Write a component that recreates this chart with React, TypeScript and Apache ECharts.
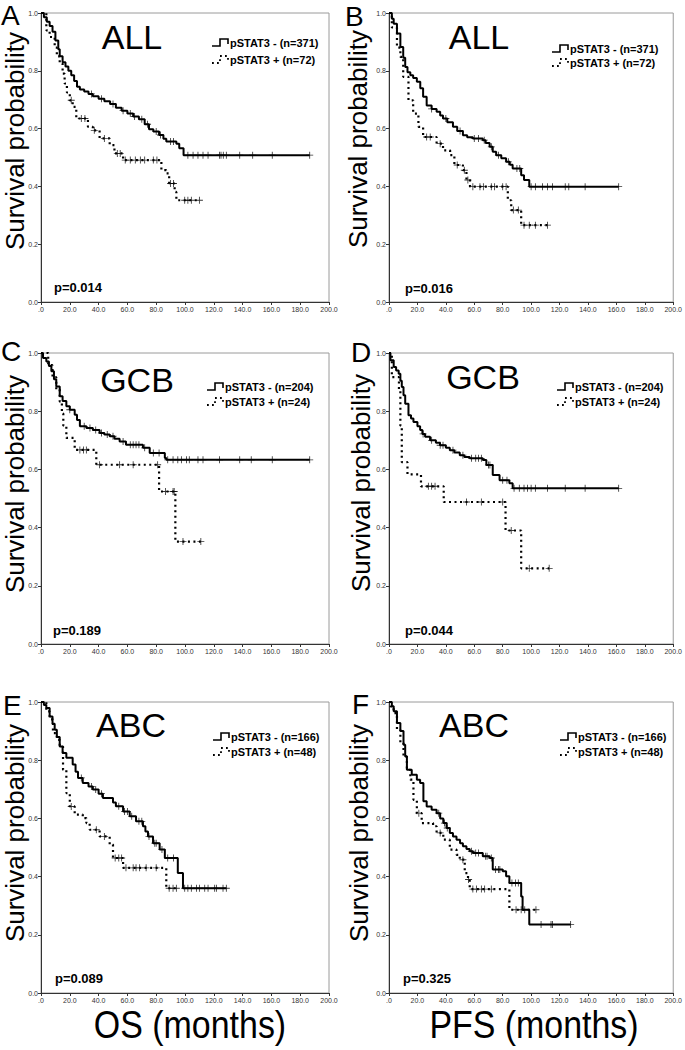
import React, { useEffect, useRef } from 'react';
import * as echarts from 'echarts';

// ---------- Data (time in months, survival probability) ----------
const xTicks = [0, 20, 40, 60, 80, 100, 120, 140, 160, 180, 200];
const yTicks = [0, 0.2, 0.4, 0.6, 0.8, 1.0];

// Panel A: OS, ALL
const A_neg: [number, number][] = [[0,1],[2,0.985],[4,0.97],[6,0.955],[8,0.935],[10,0.905],[12,0.875],[13,0.85],[15,0.83],[17,0.815],[19,0.8],[21,0.785],[23,0.765],[25,0.745],[27,0.735],[30,0.728],[33,0.72],[36,0.712],[40,0.703],[44,0.695],[48,0.685],[52,0.672],[56,0.662],[60,0.652],[64,0.642],[68,0.632],[72,0.615],[75,0.598],[78,0.59],[82,0.578],[85,0.565],[87,0.555],[94,0.548],[96,0.532],[99,0.508],[186.6,0.508]];
const A_negCens = [35, 42, 50, 57, 62, 65, 70, 74, 80, 83, 90, 92, 102, 105.6, 109, 112.5, 116, 124, 125, 126.6, 128.7, 138, 147, 160.6, 186.6];
const A_pos: [number, number][] = [[0,1],[3.7,0.94],[6,0.917],[9.5,0.88],[11,0.85],[13,0.825],[15,0.79],[16.4,0.756],[18,0.725],[20,0.698],[22,0.675],[24.5,0.635],[32.6,0.606],[36,0.594],[40.7,0.566],[47.7,0.543],[51,0.514],[57,0.491],[83.6,0.456],[87,0.445],[89,0.41],[92.8,0.381],[94,0.352],[110,0.352]];
const A_posCens = [21, 28, 30.5, 37, 44, 53, 55, 58.5, 62, 65.5, 69, 72, 78, 80.5, 90, 92, 99.8, 102, 104.4, 110];

// Panel B: PFS, ALL
const B_neg: [number, number][] = [[0,1],[2,0.98],[3.3,0.963],[5.6,0.929],[8,0.882],[10,0.845],[11.4,0.813],[13,0.795],[15,0.785],[17,0.775],[19.6,0.762],[22,0.74],[24,0.71],[26.5,0.68],[30,0.668],[33.5,0.658],[36,0.645],[38,0.635],[41,0.622],[45,0.606],[48,0.592],[52,0.577],[55,0.57],[59,0.566],[66,0.56],[68,0.55],[70.8,0.537],[73,0.52],[75.4,0.508],[79,0.497],[82.4,0.485],[85,0.475],[87,0.462],[93,0.439],[95,0.422],[98.7,0.399],[161.6,0.399]];
const B_negCens = [30, 40, 50, 60, 63, 67, 72, 77, 84, 90, 92, 100, 103, 108, 111.5, 115, 124, 126.5, 138, 161.6];
const B_pos: [number, number][] = [[0,1],[2,0.95],[5.6,0.88],[8,0.848],[10,0.779],[13.7,0.698],[17,0.652],[20.7,0.606],[24,0.571],[33.5,0.548],[38,0.525],[43,0.508],[46,0.474],[52,0.456],[54.5,0.422],[57,0.399],[83.6,0.352],[86,0.318],[93,0.266],[111.5,0.266]];
const B_posCens = [26.5, 29, 36, 48, 53, 55.5, 59, 64, 66.4, 72, 74.3, 80, 82.4, 87.5, 91, 95, 98.7, 103, 111.5];

// Panel C: OS, GCB
const C_neg: [number, number][] = [[0,1],[1.4,0.983],[3.7,0.971],[5.5,0.955],[7.2,0.937],[9,0.91],[10.6,0.885],[13,0.851],[15,0.835],[17.6,0.817],[20,0.805],[23.4,0.788],[25,0.77],[27,0.748],[31.5,0.742],[36,0.735],[40.7,0.725],[44,0.72],[47.7,0.714],[51,0.705],[54.6,0.696],[59,0.685],[70.8,0.674],[75.5,0.656],[86,0.639],[87,0.633],[186.6,0.633]];
const C_negCens = [20, 30, 34, 38, 42, 46, 50, 57, 62, 64, 66, 68, 72, 78, 82, 88, 91.7, 95, 97.5, 101, 103, 109, 112.5, 124, 138, 146, 160.6, 186.6];
const C_pos: [number, number][] = [[0,1],[5,0.958],[8,0.917],[10.6,0.875],[13,0.833],[14.5,0.792],[15.5,0.75],[17.6,0.708],[23.4,0.667],[38.4,0.616],[82,0.524],[93.3,0.352],[111,0.352]];
const C_posCens = [27, 29.5, 31.5, 40.7, 54.6, 64, 81, 86.5, 91.7, 92.5, 98.6, 111];

// Panel D: PFS, GCB
const D_neg: [number, number][] = [[0,1],[1,0.975],[3.3,0.952],[5,0.94],[6.8,0.929],[8,0.905],[9,0.883],[10.2,0.855],[11.4,0.826],[13.7,0.786],[15.5,0.775],[17.2,0.763],[20,0.748],[21.9,0.735],[23.5,0.722],[25.4,0.712],[28.9,0.7],[33,0.692],[35.9,0.683],[40,0.674],[42.8,0.666],[46,0.658],[49.8,0.649],[53,0.643],[56.8,0.638],[66,0.632],[68.5,0.615],[73,0.581],[77.8,0.563],[84.7,0.552],[87,0.535],[161.6,0.535]];
const D_negCens = [24, 30, 36, 38, 45, 52, 58, 61, 63, 65, 70, 71, 80, 83, 88, 91.7, 95, 97.5, 100, 103, 111.5, 124, 138, 161.6];
const D_pos: [number, number][] = [[0,1],[2,0.917],[7,0.875],[8,0.75],[9,0.625],[13,0.583],[22.5,0.542],[38.5,0.488],[82,0.39],[93,0.26],[112.7,0.26]];
const D_posCens = [27.7, 30, 32.4, 54.5, 65, 80, 86, 98.7, 112.7];

// Panel E: OS, ABC
const E_neg: [number, number][] = [[0,1],[2,0.99],[3.7,0.979],[6,0.95],[8,0.925],[9.5,0.905],[11,0.88],[13,0.847],[15,0.825],[17.6,0.808],[22,0.785],[24,0.76],[25.7,0.739],[29,0.722],[33,0.71],[36,0.699],[40,0.685],[43,0.67],[50,0.655],[52,0.642],[57,0.624],[61.6,0.607],[66,0.59],[70.8,0.573],[72.5,0.555],[74.3,0.538],[77.8,0.515],[82.4,0.493],[86,0.464],[95,0.412],[98.6,0.36],[128.7,0.36]];
const E_negCens = [28, 35, 38, 42, 54, 58, 60, 63, 68, 70, 75, 79, 80, 84, 88, 92, 99.8, 102, 104.4, 108, 110, 113.7, 116, 120.6, 121.8, 126.4, 128.7];
const E_pos: [number, number][] = [[0,1],[3.7,0.968],[6,0.94],[8.3,0.893],[11,0.87],[13,0.847],[15.3,0.767],[17.6,0.687],[20,0.641],[23.4,0.613],[29,0.601],[31.5,0.584],[33.8,0.561],[40.7,0.538],[47.7,0.51],[50,0.464],[57,0.43],[87,0.36],[94,0.36]];
const E_posCens = [21, 38.4, 44, 51.5, 54, 56, 59, 64, 66, 68.5, 73, 80, 89, 91.7, 94];

// Panel F: PFS, ABC
const F_neg: [number, number][] = [[0,1],[2,0.985],[3.3,0.968],[5.6,0.928],[8,0.9],[10.2,0.853],[11.4,0.813],[12.6,0.767],[16,0.75],[19.6,0.733],[21.9,0.722],[24.2,0.659],[26.5,0.641],[30,0.63],[33.5,0.618],[36,0.6],[38.2,0.584],[40.5,0.567],[42.8,0.55],[45,0.538],[47.5,0.527],[50,0.515],[52,0.504],[54.5,0.495],[56.8,0.487],[59,0.481],[66,0.47],[70.8,0.464],[73,0.424],[80,0.418],[82.4,0.401],[84.7,0.378],[93,0.332],[94,0.286],[98.7,0.235],[127.8,0.235]];
const F_negCens = [35, 39, 41, 58, 61, 63, 68, 69, 72, 75, 77, 78, 86.5, 89, 91, 95.5, 107, 114, 115, 127.8];
const F_pos: [number, number][] = [[0,1],[1,0.985],[3.3,0.962],[5.6,0.905],[8,0.859],[10.2,0.813],[12.6,0.767],[15,0.733],[17.2,0.664],[19.6,0.618],[23,0.584],[31,0.573],[33.5,0.55],[38.2,0.527],[42.8,0.493],[47.5,0.475],[49.8,0.458],[53.3,0.412],[55.6,0.39],[56.8,0.357],[84.7,0.286],[103.4,0.286]];
const F_posCens = [21, 36, 52, 56, 59, 61.5, 65, 67.3, 72, 89.4, 93, 103.4];

const groupNames = ['ALL', 'ALL', 'GCB', 'GCB', 'ABC', 'ABC'];
const panelLetters = ['A', 'B', 'C', 'D', 'E', 'F'];
const nNeg = [371, 371, 204, 204, 166, 166];
const nPos = [72, 72, 24, 24, 48, 48];
const pValues = ['0.014', '0.016', '0.189', '0.044', '0.089', '0.325'];
const xTitles = ['OS (months)', 'PFS (months)'];

// ---------- Layout ----------
const FONT = 'Arial, "Liberation Sans", Helvetica, sans-serif';
const layout = [
  { grid: { left: 41, top: 13, width: 288, height: 289 }, title: [132, 37], letter: [1, 15], yTitle: [15, 141], legend: [212, 43, 60], p: [54, 287] },
  { grid: { left: 389, top: 13, width: 286, height: 289 }, title: [479, 37], letter: [345, 16], yTitle: [358, 139], legend: [552, 49, 63], p: [405, 288] },
  { grid: { left: 41, top: 353, width: 288, height: 291 }, title: [137, 380], letter: [1, 351], yTitle: [15, 484], legend: [207, 387, 402], p: [53, 630] },
  { grid: { left: 389, top: 353, width: 286, height: 291 }, title: [483, 377], letter: [351, 352], yTitle: [361, 483], legend: [557, 387, 402], p: [405, 630] },
  { grid: { left: 41, top: 702, width: 288, height: 291 }, title: [131, 725], letter: [3, 705], yTitle: [15, 833], legend: [213, 737, 752], p: [55, 978] },
  { grid: { left: 389, top: 702, width: 286, height: 291 }, title: [474, 725], letter: [352, 704], yTitle: [359, 833], legend: [560, 737, 752], p: [403, 978] },
];
const xTitlePos = [[190, 1025], [534, 1025]];

const curves = [
  [A_neg, A_pos, A_negCens, A_posCens],
  [B_neg, B_pos, B_negCens, B_posCens],
  [C_neg, C_pos, C_negCens, C_posCens],
  [D_neg, D_pos, D_negCens, D_posCens],
  [E_neg, E_pos, E_negCens, E_posCens],
  [F_neg, F_pos, F_negCens, F_posCens],
] as const;

function stepAt(pts: [number, number][], t: number): number {
  let v = pts[0][1];
  for (const p of pts) {
    if (p[0] <= t) v = p[1];
    else break;
  }
  return v;
}

const PLUS = 'path://M4.4,0H5.6V4.4H10V5.6H5.6V10H4.4V5.6H0V4.4H4.4Z';

function buildOption() {
  const grids: any[] = [];
  const xAxes: any[] = [];
  const yAxes: any[] = [];
  const series: any[] = [];
  const graphics: any[] = [];

  layout.forEach((L, i) => {
    grids.push({ ...L.grid, show: true, borderColor: '#9a9a9a', borderWidth: 1, backgroundColor: '#fff' });
    xAxes.push({
      type: 'value', gridIndex: i, min: 0, max: 200, interval: 20,
      axisLine: { show: true, onZero: false, lineStyle: { color: '#333', width: 1 } },
      axisTick: { show: true, length: 3, lineStyle: { color: '#333' } },
      splitLine: { show: false },
      axisLabel: {
        fontSize: 7, color: '#333', margin: 4, fontFamily: FONT,
        formatter: (v: number) => (v === 0 ? '.0' : v.toFixed(1)),
        customValues: xTicks,
      },
    });
    yAxes.push({
      type: 'value', gridIndex: i, min: 0, max: 1, interval: 0.2,
      axisLine: { show: true, onZero: false, lineStyle: { color: '#333', width: 1 } },
      axisTick: { show: true, length: 3, lineStyle: { color: '#333' } },
      splitLine: { show: false },
      axisLabel: {
        fontSize: 7, color: '#333', margin: 3, fontFamily: FONT,
        formatter: (v: number) => v.toFixed(1),
        customValues: yTicks,
      },
    });

    const [neg, pos, negC, posC] = curves[i] as any;
    series.push({
      type: 'line', xAxisIndex: i, yAxisIndex: i, step: 'end', showSymbol: false, symbol: 'none',
      data: neg, lineStyle: { color: '#000', width: 2 }, z: 3,
    });
    series.push({
      type: 'line', xAxisIndex: i, yAxisIndex: i, step: 'end', showSymbol: false, symbol: 'none',
      data: pos, lineStyle: { color: '#000', width: 2.2, type: [2, 3.5] }, z: 3,
    });
    series.push({
      type: 'scatter', xAxisIndex: i, yAxisIndex: i, symbol: PLUS, symbolSize: 7,
      data: (negC as number[]).map((t) => [t, stepAt(neg, t)]),
      itemStyle: { color: '#000' }, z: 4,
    });
    series.push({
      type: 'scatter', xAxisIndex: i, yAxisIndex: i, symbol: PLUS, symbolSize: 7,
      data: (posC as number[]).map((t) => [t, stepAt(pos, t)]),
      itemStyle: { color: '#000' }, z: 4,
    });

    // Texts
    graphics.push({
      type: 'text', x: L.letter[0], y: L.letter[1],
      style: { text: panelLetters[i], font: `28px ${FONT}`, fill: '#000', textAlign: 'left', textVerticalAlign: 'middle' },
    });
    graphics.push({
      type: 'text', x: L.title[0], y: L.title[1],
      style: { text: groupNames[i], font: `34px ${FONT}`, fill: '#000', textAlign: 'center', textVerticalAlign: 'middle' },
    });
    graphics.push({
      type: 'text', x: L.yTitle[0], y: L.yTitle[1], rotation: Math.PI / 2,
      style: { text: 'Survival probability', font: `26px ${FONT}`, fill: '#000', textAlign: 'center', textVerticalAlign: 'middle' },
    });
    graphics.push({
      type: 'text', x: L.p[0], y: L.p[1],
      style: { text: `p=${pValues[i]}`, font: `bold 13px ${FONT}`, fill: '#000', textAlign: 'left', textVerticalAlign: 'middle' },
    });
    const [lx, ly1, ly2] = L.legend;
    graphics.push({
      type: 'polyline',
      shape: { points: [[lx, ly1 + 3], [lx + 8, ly1 + 3], [lx + 8, ly1 - 4], [lx + 16, ly1 - 4], [lx + 16, ly1 + 1]] },
      style: { stroke: '#000', lineWidth: 1.6, fill: null },
    });
    graphics.push({
      type: 'polyline',
      shape: { points: [[lx, ly2 + 3], [lx + 8, ly2 + 3], [lx + 8, ly2 - 4], [lx + 16, ly2 - 4], [lx + 16, ly2 + 1]] },
      style: { stroke: '#000', lineWidth: 1.8, fill: null, lineDash: [1.8, 3.2] },
    });
    graphics.push({
      type: 'text', x: lx + 18, y: ly1,
      style: { text: `pSTAT3 - (n=${nNeg[i]})`, font: `bold 11px ${FONT}`, fill: '#000', textAlign: 'left', textVerticalAlign: 'middle' },
    });
    graphics.push({
      type: 'text', x: lx + 18, y: ly2,
      style: { text: `pSTAT3 + (n=${nPos[i]})`, font: `bold 11px ${FONT}`, fill: '#000', textAlign: 'left', textVerticalAlign: 'middle' },
    });
  });

  xTitles.forEach((t, j) => {
    graphics.push({
      type: 'text', x: xTitlePos[j][0], y: xTitlePos[j][1], scaleX: 0.87,
      style: { text: t, font: `39px ${FONT}`, fill: '#000', textAlign: 'center', textVerticalAlign: 'middle' },
    });
  });

  return {
    animation: false,
    backgroundColor: '#fff',
    grid: grids,
    xAxis: xAxes,
    yAxis: yAxes,
    series,
    graphic: { elements: graphics },
  };
}

export default function App() {
  const ref = useRef<HTMLDivElement>(null);
  useEffect(() => {
    document.body.style.margin = '0';
    if (!ref.current) return;
    const chart = echarts.init(ref.current, null, { renderer: 'svg' });
    chart.setOption(buildOption() as any);
    return () => chart.dispose();
  }, []);
  return <div ref={ref} style={{ width: 685, height: 1050, background: '#fff' }} />;
}
